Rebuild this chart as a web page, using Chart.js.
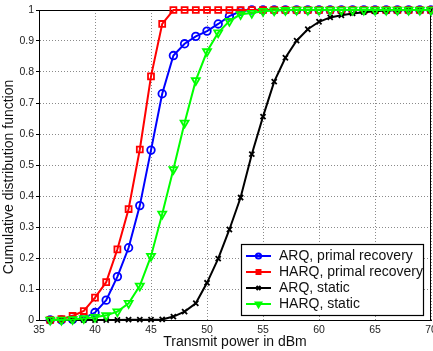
<!DOCTYPE html>
<html><head><meta charset="utf-8">
<script src="https://cdn.jsdelivr.net/npm/chart.js@4"></script>
<style>html,body{margin:0;padding:0;background:#fff}#wrap{width:433px;height:351px}</style>
</head><body><div id="wrap"><canvas id="c" width="433" height="351"></canvas></div>
<script>
const FONT = "'Liberation Sans', Arial, Helvetica, sans-serif";

// Transmit power (dBm) sample points
const powerDbm = [36,37,38,39,40,41,42,43,44,45,46,47,48,49,50,51,52,53,54,55,56,57,58,59,60,61,62,63,64,65,66,67,68,69,70];

const arqPrimal  = [0,0,0.002,0.006,0.024,0.064,0.14,0.233,0.369,0.548,0.73,0.853,0.891,0.915,0.932,0.955,0.98,0.996,1,1,1,1,1,1,1,1,1,1,1,1,1,1,1,1,1];
const harqPrimal = [0,0.003,0.013,0.029,0.072,0.122,0.228,0.358,0.55,0.786,0.955,1,1,1,1,1,1,1,1,1,1,1,1,1,1,1,1,1,1,1,1,1,1,1,1];
const arqStatic  = [0,0,0,0,0,0,0,0.001,0.001,0.001,0.002,0.011,0.027,0.054,0.12,0.198,0.292,0.395,0.535,0.656,0.769,0.846,0.901,0.938,0.962,0.976,0.983,0.989,0.993,0.996,0.998,0.999,1,1,1];
const harqStatic = [0,0,0.002,0.005,0.009,0.015,0.027,0.054,0.11,0.206,0.342,0.486,0.636,0.773,0.866,0.927,0.964,0.986,0.99,0.996,0.998,0.999,1,1,1,1,1,1,1,1,1,1,1,1,1];

const xTicks = [35,40,45,50,55,60,65,70];
const yTicks = [0,0.1,0.2,0.3,0.4,0.5,0.6,0.7,0.8,0.9,1];

const seriesLabels = ['ARQ, primal recovery','HARQ, primal recovery','ARQ, static','HARQ, static'];
const seriesColors = ['#0000ff','#ff0000','#000000','#00ff00'];
const seriesValues = [arqPrimal, harqPrimal, arqStatic, harqStatic];
const seriesStyles = [
  {pointStyle:'circle', radius:3.8, rotation:0, legendRadius:2.6},
  {pointStyle:'rect', radius:4.2, rotation:0, legendRadius:2.8},
  {pointStyle:'crossRot', radius:3.6, rotation:0, legendRadius:2.8},
  {pointStyle:'triangle', radius:4.6, rotation:180, legendRadius:3.2}
];
const drawOrder = [3,2,1,0];

const datasets = seriesValues.map((vals,i)=>({
  label: seriesLabels[i],
  data: powerDbm.map((x,j)=>({x:x, y:vals[j]})),
  borderColor: seriesColors[i],
  backgroundColor: 'rgba(0,0,0,0)',
  pointBorderColor: seriesColors[i],
  pointBackgroundColor: 'rgba(0,0,0,0)',
  borderWidth: 2,
  pointBorderWidth: 1.8,
  pointStyle: seriesStyles[i].pointStyle,
  pointRadius: seriesStyles[i].radius,
  pointRotation: seriesStyles[i].rotation,
  tension: 0,
  order: drawOrder[i],
  clip: false
}));

const framePlugin = {
  id:'frame',
  beforeDatasetsDraw(chart){
    const {ctx, chartArea:a} = chart;
    ctx.save();
    ctx.strokeStyle='#000'; ctx.lineWidth=1;
    ctx.strokeRect(Math.round(a.left)+0.5, Math.round(a.top)+0.5, Math.round(a.right-a.left)-1, Math.round(a.bottom-a.top));
    ctx.restore();
  },
  afterDraw(chart){
    const ctx = chart.ctx;
    // y axis title
    ctx.save();
    ctx.translate(9, 177);
    ctx.rotate(-Math.PI/2);
    ctx.font = '14px ' + FONT;
    ctx.fillStyle = '#111';
    ctx.textAlign='center'; ctx.textBaseline='middle';
    ctx.fillText('Cumulative distribution function', 0, 0);
    ctx.restore();
    // legend
    const bx=241, by=244, bw=182, bh=71;
    ctx.save();
    ctx.fillStyle='#fff'; ctx.fillRect(bx,by,bw,bh);
    ctx.strokeStyle='#000'; ctx.lineWidth=1.2; ctx.strokeRect(bx+0.5,by+0.5,bw,bh);
    const rows=[256,272,288,304];
    seriesLabels.forEach((lab,i)=>{
      const y=rows[i];
      ctx.strokeStyle=seriesColors[i]; ctx.lineWidth=2;
      ctx.beginPath(); ctx.moveTo(246,y); ctx.lineTo(271,y); ctx.stroke();
      ctx.fillStyle='rgba(0,0,0,0)';
      Chart.helpers.drawPoint(ctx,{pointStyle:seriesStyles[i].pointStyle, radius:seriesStyles[i].legendRadius, rotation:seriesStyles[i].rotation, borderWidth:1.6},258.5,y);
      ctx.fillStyle='#111';
      ctx.font='14px ' + FONT;
      ctx.textAlign='left'; ctx.textBaseline='middle';
      ctx.fillText(lab, 279, y+0.5);
    });
    ctx.restore();
  }
};

new Chart(document.getElementById('c'), {
  type:'line',
  data:{datasets},
  options:{
    responsive:false, animation:false, devicePixelRatio:1,
    layout:{autoPadding:false, padding:{top:10,right:2,left:0,bottom:0}},
    plugins:{legend:{display:false}, tooltip:{enabled:false}},
    scales:{
      x:{type:'linear', min:35, max:70,
        afterBuildTicks(s){ s.ticks = xTicks.map(v=>({value:v})); },
        afterFit(s){ s.height=31; s.paddingLeft=0; s.paddingRight=0; },
        ticks:{font:{size:10.5, family:FONT}, color:'#222', padding:4, maxRotation:0, autoSkip:false,
               callback:v=>String(v)},
        grid:{color:'#8a8a8a', lineWidth:1, drawTicks:false},
        border:{display:true, color:'#000', width:1, dash:[1,2]},
        title:{display:true, text:'Transmit power in dBm', font:{size:14, family:FONT}, color:'#111', padding:{top:0,bottom:0}}
      },
      y:{type:'linear', min:0, max:1,
        afterBuildTicks(s){ s.ticks = yTicks.map(v=>({value:v})); },
        afterFit(s){ s.width=39; s.paddingTop=0; s.paddingBottom=0; },
        ticks:{font:{size:10.5, family:FONT}, color:'#222', padding:2, autoSkip:false,
               callback:v=>String(Math.round(v*10)/10)},
        grid:{color:'#8a8a8a', lineWidth:1, drawTicks:true, tickLength:3, tickColor:'#000', tickBorderDash:[]},
        border:{display:true, color:'#000', width:1, dash:[1,2]}
      }
    }
  },
  plugins:[framePlugin]
});
</script>
</body></html>
